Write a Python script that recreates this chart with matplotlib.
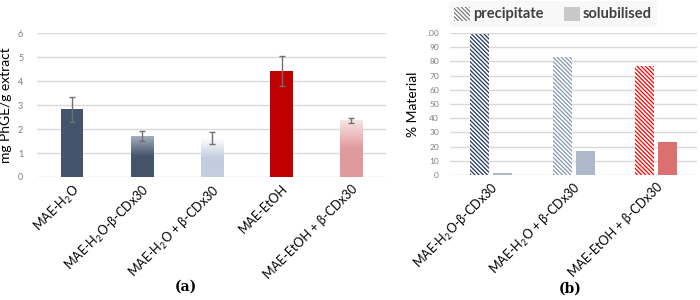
import numpy as np
import matplotlib
matplotlib.use('Agg')
import matplotlib.pyplot as plt
import matplotlib.patches as mpatches
from matplotlib.colors import LinearSegmentedColormap

plt.rcParams['font.family'] = ['Lato', 'DejaVu Sans']
plt.rcParams['mathtext.fontset'] = 'custom'
plt.rcParams['mathtext.rm'] = 'Lato'
plt.rcParams['mathtext.it'] = 'Lato:italic'
plt.rcParams['hatch.linewidth'] = 0.9

# ---------------------------------------------------------------------------
# data, panel (a)
extracts = ['MAE-H$_2$O', 'MAE-H$_2$O-β-CDx30', 'MAE-H$_2$O + β-CDx30',
            'MAE-EtOH', 'MAE-EtOH + β-CDx30']
phge = [2.83, 1.71, 1.62, 4.42, 2.37]
phge_err = [0.52, 0.19, 0.26, 0.63, 0.10]
a_yticks = [0, 1, 2, 3, 4, 5, 6]

# data, panel (b)
complexes = ['MAE-H$_2$O-β-CDx30', 'MAE-H$_2$O + β-CDx30', 'MAE-EtOH + β-CDx30']
precipitate = [99, 83, 77]
solubilised = [1, 17, 23]
b_yticks = [0, 10, 20, 30, 40, 50, 60, 70, 80, 90, 100]
b_yticklabels = ['0', '10', '20', '30', '40', '50', '60', '70', '80', '90', '.00']

grid_col = '#d9d9d9'
tick_col = '#7f7f7f'
HATCH = '\\' * 8

# each bar in (a): solid colour or (top colour, bottom colour) gradient
a_fills = ['#44546a', ('#a9b3c2', '#44546a'), ('#ffffff', '#c3cde0'),
           '#c00000', ('#f8e4e4', '#e0999d')]


def gradient_bar(ax, patch, top, bottom):
    x0, y0 = patch.get_x(), patch.get_y()
    w, h = patch.get_width(), patch.get_height()
    cmap = LinearSegmentedColormap.from_list('g', [bottom, bottom, top])
    grad = np.linspace(0, 1, 256).reshape(-1, 1)
    im = ax.imshow(grad, cmap=cmap, aspect='auto', origin='lower',
                   extent=(x0, x0 + w, y0, y0 + h), zorder=2)
    im.set_clip_path(patch)


fig = plt.figure(figsize=(7, 3), dpi=100)

# ---------------------------------------------------------------------------
# panel (a)
ax1 = fig.add_axes([0.053, 0.41, 0.499, 0.48])
x = np.arange(len(extracts))
bars = ax1.bar(x, phge, width=0.32, zorder=2)
for b, f in zip(bars, a_fills):
    if isinstance(f, tuple):
        b.set_facecolor('none')
        b.set_edgecolor('none')
        gradient_bar(ax1, b, f[0], f[1])
    else:
        b.set_facecolor(f)
        b.set_edgecolor('none')
ax1.errorbar(x, phge, yerr=phge_err, fmt='none', ecolor='#707070',
             elinewidth=1, capsize=2, capthick=1, zorder=3)
ax1.set_xlim(-0.5, len(extracts) - 0.5)
ax1.set_ylim(0, 6)
ax1.set_yticks(a_yticks)
ax1.yaxis.grid(True, color=grid_col, lw=1)
ax1.set_axisbelow(True)
for s in ax1.spines.values():
    s.set_visible(False)
ax1.tick_params(axis='y', length=0, labelsize=6.5, labelcolor=tick_col, pad=10)
ax1.tick_params(axis='x', length=0, labelsize=9, pad=4)
ax1.set_xticks(x)
ax1.set_xticklabels(extracts, rotation=45, ha='right', rotation_mode='anchor')
ax1.set_ylabel('mg PhGE/g extract', fontsize=10, labelpad=4)

# ---------------------------------------------------------------------------
# panel (b)
ax2 = fig.add_axes([0.643, 0.417, 0.353, 0.473])
xb = np.arange(len(complexes))
w = 0.23
prec_cols = ['#203864', '#8497b0', '#ff0000']
sol_cols = ['#adb9ca', '#adb9ca', '#dc6f6f']
for i in range(len(complexes)):
    ax2.bar(xb[i] - 0.14, precipitate[i], width=w, facecolor='white',
            edgecolor=prec_cols[i], linewidth=0, hatch=HATCH, zorder=2)
    ax2.bar(xb[i] + 0.14, solubilised[i], width=w, color=sol_cols[i], zorder=2)
ax2.set_xlim(-0.5, len(complexes) - 0.5)
ax2.set_ylim(0, 100)
ax2.set_yticks(b_yticks)
ax2.set_yticklabels(b_yticklabels)
ax2.yaxis.grid(True, color=grid_col, lw=1)
ax2.set_axisbelow(True)
for s in ax2.spines.values():
    s.set_visible(False)
ax2.tick_params(axis='y', length=0, labelsize=6, labelcolor=tick_col, pad=8)
ax2.tick_params(axis='x', length=0, labelsize=9, pad=4)
ax2.set_xticks(xb)
ax2.set_xticklabels(complexes, rotation=45, ha='right', rotation_mode='anchor')
ax2.set_ylabel('% Material', fontsize=10, labelpad=6)

handles = [mpatches.Rectangle((0, 0), 1, 1, facecolor='white', edgecolor='#7a7a7a',
                              linewidth=0, hatch=HATCH),
           mpatches.Rectangle((0, 0), 1, 1, facecolor='#c8c8c8', edgecolor='none')]
leg = fig.legend(handles, ['precipitate', 'solubilised'], loc='upper center',
                 bbox_to_anchor=(0.79, 1.005), ncol=2, frameon=True, fontsize=10.5,
                 handlelength=1.1, handleheight=1.1, handletextpad=0.2,
                 columnspacing=1.4, borderpad=0.35, borderaxespad=0.2)
leg.get_frame().set_facecolor('#f7f7f7')
leg.get_frame().set_edgecolor('none')
for t in leg.get_texts():
    t.set_color('#404040')
    t.set_fontweight('bold')

# captions
fig.text(0.265, 0.03, '(a)', fontsize=10, family='DejaVu Serif',
         fontweight='bold', ha='center')
fig.text(0.815, 0.025, '(b)', fontsize=10, family='DejaVu Serif',
         fontweight='bold', ha='center')

fig.savefig('out.png', dpi=100)
